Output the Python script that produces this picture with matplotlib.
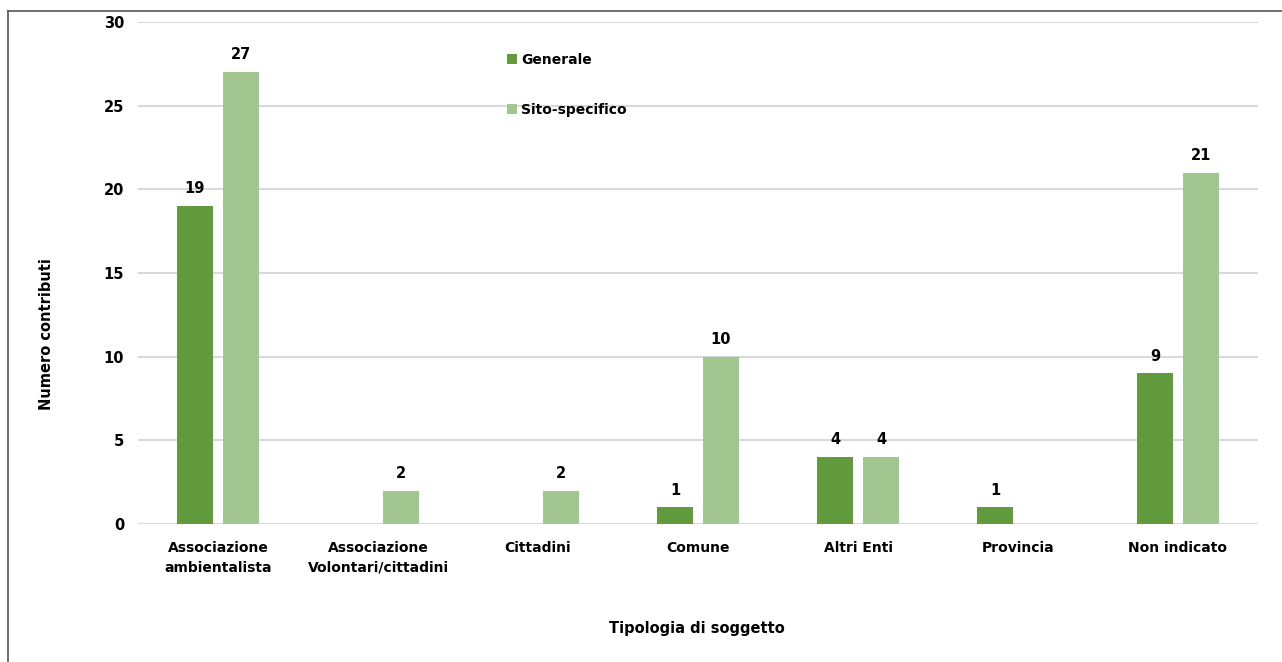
import matplotlib
matplotlib.use("Agg")
import matplotlib.pyplot as plt
import numpy as np
from matplotlib.lines import Line2D

plt.rcParams['font.family'] = ['DejaVu Sans']

categories = ["Associazione\nambientalista", "Associazione\nVolontari/cittadini",
              "Cittadini", "Comune", "Altri Enti", "Provincia", "Non indicato"]
generale = [19, 0, 0, 1, 4, 1, 9]
sito_specifico = [27, 2, 2, 10, 4, 0, 21]
y_ticks = [0, 5, 10, 15, 20, 25, 30]

dark = "#629a3e"
light = "#a2c690"

fig = plt.figure(figsize=(12.82, 6.62), dpi=100)
ax = fig.add_axes([138/1282, 1-524/662, 1120/1282, 502/662])

x = np.arange(len(categories))
w = 0.225
off = 0.14375
b1 = ax.bar(x - off, generale, w, color=dark, label="Generale", zorder=3)
b2 = ax.bar(x + off, sito_specifico, w, color=light, label="Sito-specifico", zorder=3)

for bars, vals in ((b1, generale), (b2, sito_specifico)):
    for r, v in zip(bars, vals):
        if v:
            ax.annotate(str(v), (r.get_x() + r.get_width()/2, v), xytext=(0, 7),
                        textcoords="offset points", ha="center", va="bottom",
                        fontsize=10.5, fontweight="bold")

ax.set_xlim(-0.5, len(categories) - 0.5)
ax.set_ylim(0, 30)
ax.set_yticks(y_ticks)
ax.set_yticklabels([str(t) for t in y_ticks], fontsize=10.5, fontweight="bold")
ax.set_xticks(x)
ax.set_xticklabels(categories, fontsize=10, fontweight="bold", linespacing=1.55)
ax.tick_params(axis="both", length=0)
ax.tick_params(axis="y", pad=10)
ax.tick_params(axis="x", pad=12)
ax.grid(axis="y", color="#d9d9d9", linewidth=1.5, zorder=0)
for s in ax.spines.values():
    s.set_visible(False)

fig.text(47/1282, 1-334/662, "Numero contributi", ha="center", va="center",
         rotation=90, fontsize=10.5, fontweight="bold")
fig.text((137+1257)/2/1282, 1-628/662, "Tipologia di soggetto", ha="center", va="center",
         fontsize=10.5, fontweight="bold")

leg = ax.legend(loc="upper left", bbox_to_anchor=(495/1282, 1-40/662),
                bbox_transform=fig.transFigure, frameon=False,
                prop={"weight": "bold", "size": 10}, handlelength=0.7, handleheight=0.7,
                handletextpad=0.3, labelspacing=2.6)

# outer frame: top and left edges
fig.add_artist(Line2D([8/1282, 1], [1-11/662, 1-11/662], color="#555555", lw=1.2,
                      transform=fig.transFigure))
fig.add_artist(Line2D([8/1282, 8/1282], [0, 1-11/662], color="#555555", lw=1.2,
                      transform=fig.transFigure))

fig.savefig("out.png", dpi=100)
